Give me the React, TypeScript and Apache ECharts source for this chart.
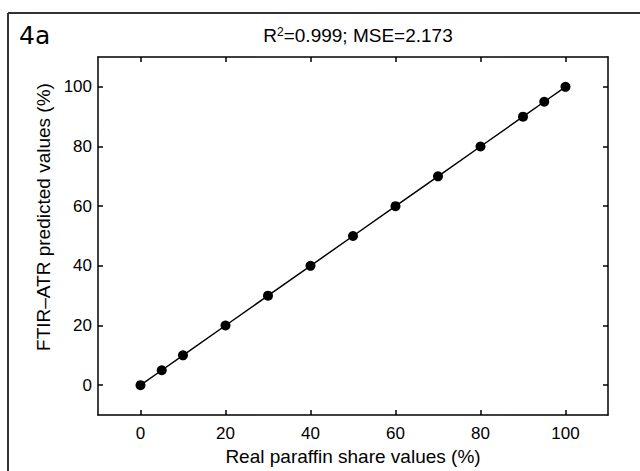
import React, { useEffect, useRef } from "react";
import * as echarts from "echarts";

const realShare = [0, 5, 10, 20, 30, 40, 50, 60, 70, 80, 90, 95, 100];
const predicted = [0, 5, 10, 20, 30, 40, 50, 60, 70, 80, 90, 95, 100];
const tickValues = [0, 20, 40, 60, 80, 100];
const panelLabel = "4a";
const titleText = "R{sup|2}=0.999; MSE=2.173";
const xName = "Real paraffin share values (%)";
const yName = "FTIR\u2013ATR predicted values (%)";

const FONT = "'Liberation Sans', Arial, sans-serif";

export default function App() {
  const ref = useRef<HTMLDivElement>(null);
  useEffect(() => {
    document.body.style.margin = "0";
    const chart = echarts.init(ref.current!, null, { renderer: "svg" });
    const axisCommon = {
      type: "value" as const,
      min: -10,
      max: 110,
      axisLine: { show: true, onZero: false, lineStyle: { color: "#000", width: 1.5 } },
      splitLine: { show: false },
    };
    const tick = { show: true, inside: true, length: 5, customValues: tickValues, lineStyle: { color: "#000", width: 1.5 } };
    chart.setOption({
      animation: false,
      backgroundColor: "#fff",
      grid: { left: 98, top: 57, width: 510, height: 358 },
      title: {
        text: titleText,
        left: 353,
        top: 21,
        textAlign: "center",
        textStyle: {
          fontFamily: FONT,
          fontSize: 19,
          fontWeight: "normal",
          color: "#000",
          rich: {
            sup: { fontSize: 12, fontFamily: FONT, color: "#000", verticalAlign: "top", lineHeight: 12, padding: [0, 0, 10, 0] },
          },
        },
      },
      xAxis: [
        {
          ...axisCommon,
          position: "bottom",
          name: xName,
          nameLocation: "middle",
          nameGap: 26,
          nameTextStyle: { fontFamily: FONT, fontSize: 19, color: "#000" },
          axisTick: tick,
          axisLabel: { show: true, margin: 10, customValues: tickValues, fontFamily: FONT, fontSize: 17, color: "#000" },
        },
        {
          ...axisCommon,
          position: "top",
          axisTick: tick,
          axisLabel: { show: false },
        },
      ],
      yAxis: [
        {
          ...axisCommon,
          position: "left",
          axisTick: tick,
          axisLabel: { show: true, margin: 6, customValues: tickValues, fontFamily: FONT, fontSize: 17, color: "#000" },
        },
        {
          ...axisCommon,
          position: "right",
          axisTick: tick,
          axisLabel: { show: false },
        },
      ],
      graphic: [
        {
          type: "line",
          shape: { x1: 8, y1: 13, x2: 640, y2: 13 },
          style: { stroke: "#333", lineWidth: 2 },
        },
        {
          type: "line",
          shape: { x1: 8, y1: 13, x2: 8, y2: 471 },
          style: { stroke: "#333", lineWidth: 2 },
        },
        {
          type: "text",
          left: 19,
          top: 23,
          style: { text: panelLabel, fontFamily: "'DejaVu Sans', sans-serif", fontSize: 25, fill: "#000" },
        },
        {
          type: "text",
          x: 43,
          y: 217,
          rotation: Math.PI / 2,
          style: { text: yName, fontFamily: FONT, fontSize: 19, fill: "#000", align: "center", verticalAlign: "middle" },
        },
      ],
      series: [
        {
          type: "line",
          xAxisIndex: 0,
          yAxisIndex: 0,
          data: realShare.map((x, i) => [x, predicted[i]]),
          symbol: "circle",
          symbolSize: 10,
          itemStyle: { color: "#000" },
          lineStyle: { color: "#000", width: 1.5 },
        },
      ],
    });
    return () => chart.dispose();
  }, []);
  return <div ref={ref} style={{ width: 640, height: 471 }} />;
}
